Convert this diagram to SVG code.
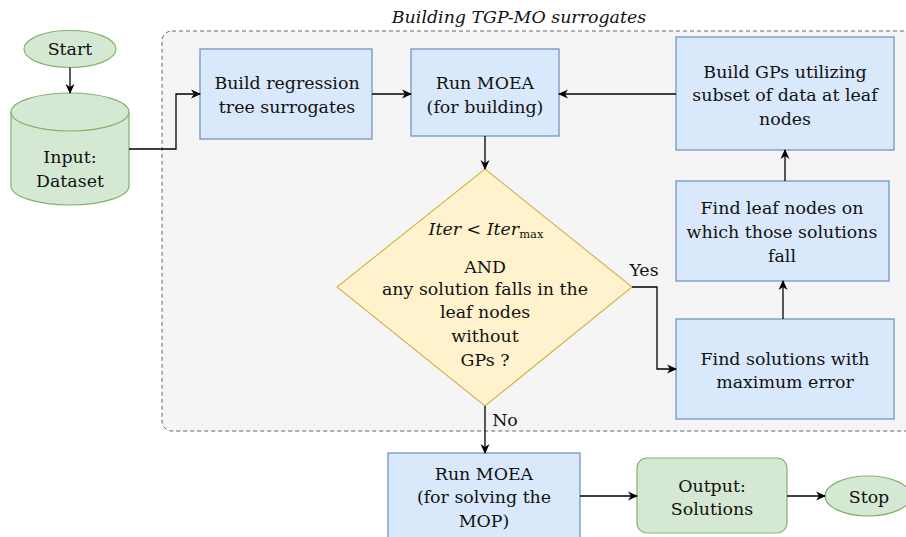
<svg xmlns="http://www.w3.org/2000/svg" width="906" height="537" viewBox="0 0 906 537">
  <defs>
    <marker id="arrow" viewBox="0 0 10 10" refX="9" refY="5" markerWidth="10" markerHeight="10" markerUnits="userSpaceOnUse" orient="auto">
      <path d="M0,0.5 L10,5 L0,9.5 L3,5 z" fill="#000"/>
    </marker>
  </defs>
  <style>
    text { font-family: "DejaVu Serif", "Liberation Serif", serif; font-size: 17.4px; fill: #111; text-anchor: middle; }
    .green { fill: #d5e8d4; stroke: #82b366; stroke-width: 1.2; }
    .blue { fill: #dae8fc; stroke: #6c8ebf; stroke-width: 1.2; }
    .yellow { fill: #fff2cc; stroke: #d6b656; stroke-width: 1.2; }
    .edge { fill: none; stroke: #000; stroke-width: 1.3; marker-end: url(#arrow); }
    .math { font-style: italic; }
  </style>

  <!-- container for the surrogate-building loop -->
  <g id="container">
    <rect x="162" y="31" width="760" height="400" rx="10" ry="10" fill="#f5f5f5" stroke="#666666" stroke-width="1" stroke-dasharray="4 3"/>
    <text x="519" y="23" font-style="italic" font-size="18.8">Building TGP-MO surrogates</text>
  </g>

  <g id="start">
    <ellipse cx="70" cy="49" rx="46" ry="18.5" class="green"/>
    <text x="70" y="55">Start</text>
  </g>

  <g id="dataset">
    <path d="M11,112 A59,19 0 0 1 129,112 L129,186 A59,19 0 0 1 11,186 Z" class="green"/>
    <path d="M11,112 A59,19 0 0 0 129,112" class="green" fill="none"/>
    <text x="70" y="163">Input:</text>
    <text x="70" y="187">Dataset</text>
  </g>

  <g id="build-tree">
    <rect x="200" y="49" width="172" height="90" class="blue"/>
    <text x="287" y="89">Build regression</text>
    <text x="287" y="113">tree surrogates</text>
  </g>

  <g id="run-moea-build">
    <rect x="411" y="49" width="148" height="87" class="blue"/>
    <text x="485" y="89">Run MOEA</text>
    <text x="485" y="113">(for building)</text>
  </g>

  <g id="build-gps">
    <rect x="676" y="37" width="218" height="113" class="blue"/>
    <text x="785" y="78">Build GPs utilizing</text>
    <text x="785" y="101">subset of data at leaf</text>
    <text x="785" y="125">nodes</text>
  </g>

  <g id="find-leaf">
    <rect x="676" y="181" width="213" height="100" class="blue"/>
    <text x="782" y="214">Find leaf nodes on</text>
    <text x="782" y="238">which those solutions</text>
    <text x="782" y="262">fall</text>
  </g>

  <g id="find-solutions">
    <rect x="676" y="319" width="218" height="100" class="blue"/>
    <text x="785" y="365">Find solutions with</text>
    <text x="785" y="388">maximum error</text>
  </g>

  <g id="decision">
    <polygon points="485,169 632,287 485,406 337,287" class="yellow"/>
    <text x="486" y="235"><tspan class="math">Iter</tspan> &lt; <tspan class="math">Iter</tspan><tspan font-size="11.5" dy="3">max</tspan></text>
    <text x="485" y="273">AND</text>
    <text x="485" y="295">any solution falls in the</text>
    <text x="485" y="318">leaf nodes</text>
    <text x="485" y="342">without</text>
    <text x="485" y="366">GPs ?</text>
  </g>

  <g id="run-moea-solve">
    <rect x="388" y="453" width="192" height="95" class="blue"/>
    <text x="484" y="480">Run MOEA</text>
    <text x="484" y="503">(for solving the</text>
    <text x="484" y="527">MOP)</text>
  </g>

  <g id="output">
    <rect x="637" y="458" width="150" height="75" rx="10" ry="10" class="green"/>
    <text x="712" y="492">Output:</text>
    <text x="712" y="515">Solutions</text>
  </g>

  <g id="stop">
    <ellipse cx="868" cy="496" rx="43" ry="20" class="green"/>
    <text x="869" y="503">Stop</text>
  </g>

  <!-- connectors -->
  <g id="connectors">
    <path d="M70,67.5 L70,93" class="edge"/>
    <path d="M129,149 L176,149 L176,94 L200,94" class="edge"/>
    <path d="M372,94 L411,94" class="edge"/>
    <path d="M676,94 L559,94" class="edge"/>
    <path d="M485,136 L485,169" class="edge"/>
    <path d="M632,287 L657,287 L657,369 L676,369" class="edge"/>
    <path d="M783,319 L783,281" class="edge"/>
    <path d="M785,181 L785,150" class="edge"/>
    <path d="M485,406 L485,453" class="edge"/>
    <path d="M580,496 L637,496" class="edge"/>
    <path d="M787,496 L825,496" class="edge"/>
    <text x="644" y="276">Yes</text>
    <text x="505" y="426">No</text>
  </g>
</svg>
